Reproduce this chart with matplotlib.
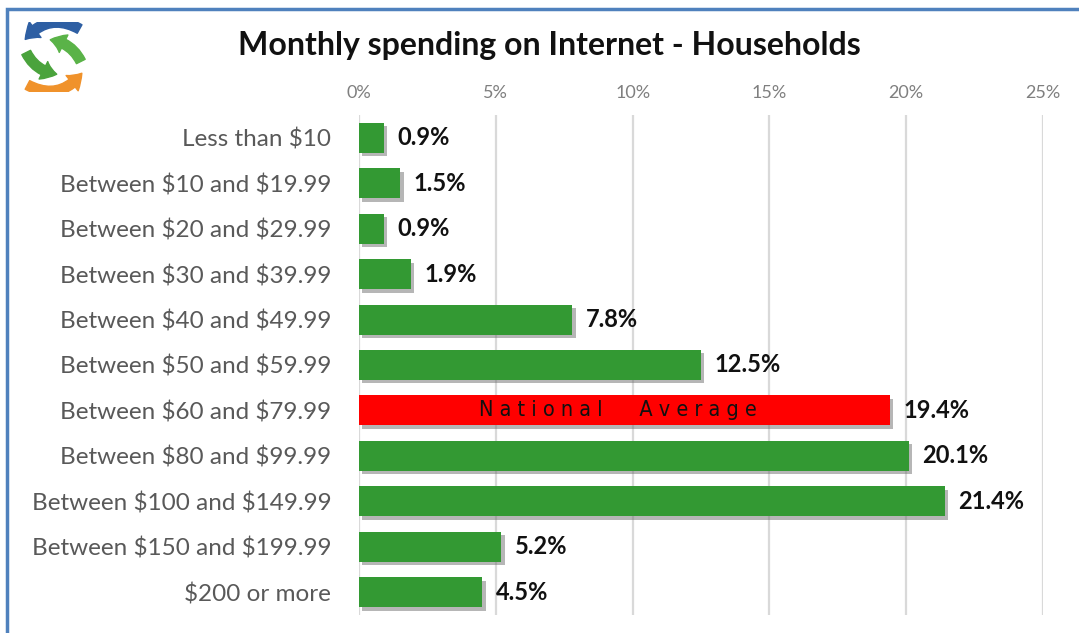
"""
Monthly spending on Internet - Households, horizontal bar chart.
"""
import matplotlib
matplotlib.use("Agg")
import matplotlib.pyplot as plt
import matplotlib.patheffects as pe
from matplotlib.patches import Rectangle, FancyArrowPatch

categories = [
    "Less than $10", "Between $10 and $19.99", "Between $20 and $29.99",
    "Between $30 and $39.99", "Between $40 and $49.99", "Between $50 and $59.99",
    "Between $60 and $79.99", "Between $80 and $99.99", "Between $100 and $149.99",
    "Between $150 and $199.99", "$200 or more",
]
shares = [0.9, 1.5, 0.9, 1.9, 7.8, 12.5, 19.4, 20.1, 21.4, 5.2, 4.5]
highlight = "Between $60 and $79.99"
xticks = [0, 5, 10, 15, 20, 25]

plt.rcParams['font.family'] = ['Lato', 'DejaVu Sans']
plt.rcParams['text.parse_math'] = False

fig = plt.figure(figsize=(10.79, 6.33), dpi=100)
ax = fig.add_axes([359 / 1079, 18 / 633, 684 / 1079, 500 / 633])

colors = ['#ff0000' if c == highlight else '#339933' for c in categories]
ypos = list(range(len(categories)))
bars = ax.barh(ypos, shares, height=0.66, color=colors, zorder=3)
for b in bars:
    b.set_path_effects([pe.SimplePatchShadow(offset=(2.5, -2.5), shadow_rgbFace='#6f6f6f', alpha=0.5),
                        pe.Normal()])

for y, v in zip(ypos, shares):
    ax.text(v + 0.5, y, f"{v}%", va='center', ha='left', fontsize=17,
            fontweight='bold', color='#111111')

# label inside highlighted bar
hi = categories.index(highlight)
ax.text(shares[hi] * 0.488, hi, "N a t i o n a l      A v e r a g e", va='center', ha='center',
        fontsize=15.5, color='#111111', family='DejaVu Sans', fontstretch='condensed')

ax.set_xlim(0, 25)
ax.set_ylim(len(categories) - 0.5, -0.5)
ax.set_xticks(xticks)
ax.set_xticklabels([f"{t}%" for t in xticks])
ax.xaxis.tick_top()
ax.tick_params(axis='x', length=0, pad=10, labelsize=13, labelcolor='#7f7f7f')
ax.set_yticks(ypos)
ax.set_yticklabels(categories)
ax.tick_params(axis='y', length=0, pad=20, labelsize=17.5, labelcolor='#595959')
ax.grid(axis='x', color='#d9d9d9', linewidth=1.6, zorder=0)
for s in ax.spines.values():
    s.set_visible(False)

fig.text(549 / 1079, 1 - 45 / 633, "Monthly spending on Internet - Households",
         ha='center', va='center', fontsize=23, fontweight='bold', color='#111111')

# outer frame (open to the right and bottom)
fig.patches.append(Rectangle((7 / 1079, -0.1), 1.2, 1 - 9 / 633 + 0.1, transform=fig.transFigure,
                             fill=False, edgecolor='#4f81bd', linewidth=2.5))

# simple logo: circular arrows
lax = fig.add_axes([16 / 1079, 1 - 92 / 633, 75 / 1079, 70 / 633])
lax.set_xlim(0, 1)
lax.set_ylim(0, 1)
lax.axis('off')
logo = [((0.88, 0.88), (0.1, 0.72), 0.45, '#2e5fa3'),
        ((0.12, 0.6), (0.58, 0.25), 0.3, '#4aa33c'),
        ((0.88, 0.4), (0.42, 0.75), 0.3, '#5ab348'),
        ((0.12, 0.12), (0.9, 0.3), 0.45, '#f0922b')]
for start, end, rad, col in logo:
    lax.add_patch(FancyArrowPatch(start, end, connectionstyle=f"arc3,rad={rad}",
                                  arrowstyle='simple,head_width=14,head_length=10,tail_width=7',
                                  color=col, mutation_scale=1))

fig.savefig("out.png", dpi=100)
